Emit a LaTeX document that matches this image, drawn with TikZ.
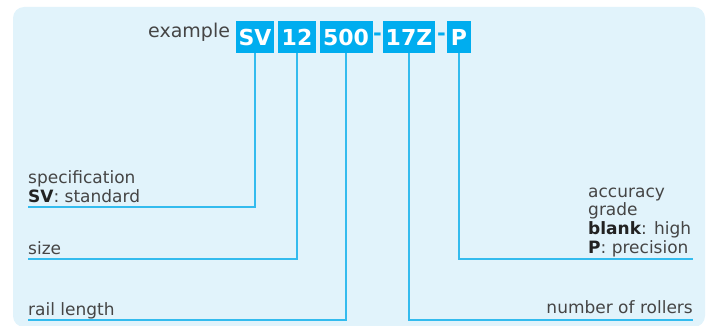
\documentclass[tikz,border=0pt]{standalone}
\usepackage{fontspec}
\setmainfont{DejaVu Sans}
\definecolor{bgc}{HTML}{E1F3FB}
\definecolor{boxc}{HTML}{00ADEF}
\definecolor{linec}{HTML}{33BBEE}
\definecolor{txtc}{HTML}{454545}
\definecolor{boldc}{HTML}{222222}
\tikzset{
  codebox/.style={fill=boxc, text=white, inner sep=0pt, minimum height=32pt,
    font=\fontsize{22}{24}\selectfont\bfseries},
  codedash/.style={text=boxc, inner sep=0pt, font=\fontsize{21}{24}\selectfont\bfseries},
  lbl/.style={text=txtc, inner sep=0pt, font=\fontsize{17}{20}\selectfont},
  lead/.style={draw=linec, line width=1.5pt},
}
\newcommand{\bb}[1]{\textcolor{boldc}{\bfseries #1}}
\begin{document}
\begin{tikzpicture}[x=1pt,y=-1pt]
\useasboundingbox (0,0) rectangle (706,326);
\fill[bgc, rounded corners=11pt] (13,7) rectangle (705,327);

\node[lbl, anchor=base west, font=\fontsize{19}{22}\selectfont] (ex) at (148,38) {example};
\node[codebox, minimum width=38pt] (sv) at (255,37) {SV};
\node[codebox, minimum width=38pt] (s12) at (297,37) {12};
\node[codebox, minimum width=53pt] (s500) at (346,37) {500};
\node[codedash] (d1) at (377.5,37) {-};
\node[codebox, minimum width=52pt] (s17z) at (409,37) {17Z};
\node[codedash] (d2) at (441.5,37) {-};
\node[codebox, minimum width=24pt] (sp) at (459,37) {P};

\coordinate (csv) at (28,207);
\coordinate (csize) at (28,259);
\coordinate (crail) at (28,320);
\coordinate (cp) at (693,259);
\coordinate (croll) at (693,320);

\draw[lead] (sv.south) |- (csv);
\draw[lead] (s12.south) |- (csize);
\draw[lead] (s500.south) |- (crail);
\draw[lead] (s17z.south) |- (croll);
\draw[lead] (sp.south) |- (cp);

\node[lbl, anchor=base west] (spec1) at (28,183) {specification};
\node[lbl, anchor=base west] (spec2) at (28,202) {\bb{SV}: standard};
\node[lbl, anchor=base west] (size) at (28,254) {size};
\node[lbl, anchor=base west] (rail) at (28,315) {rail length};
\node[lbl, anchor=base west] (acc1) at (588,197) {accuracy};
\node[lbl, anchor=base west] (acc2) at (588,215) {grade};
\node[lbl, anchor=base west] (acc3) at (588,234) {\bb{blank}: high};
\node[lbl, anchor=base west] (acc4) at (588,253) {\bb{P}: precision};
\node[lbl, anchor=base east] (roll) at (693,313) {number of rollers};
\end{tikzpicture}
\end{document}
